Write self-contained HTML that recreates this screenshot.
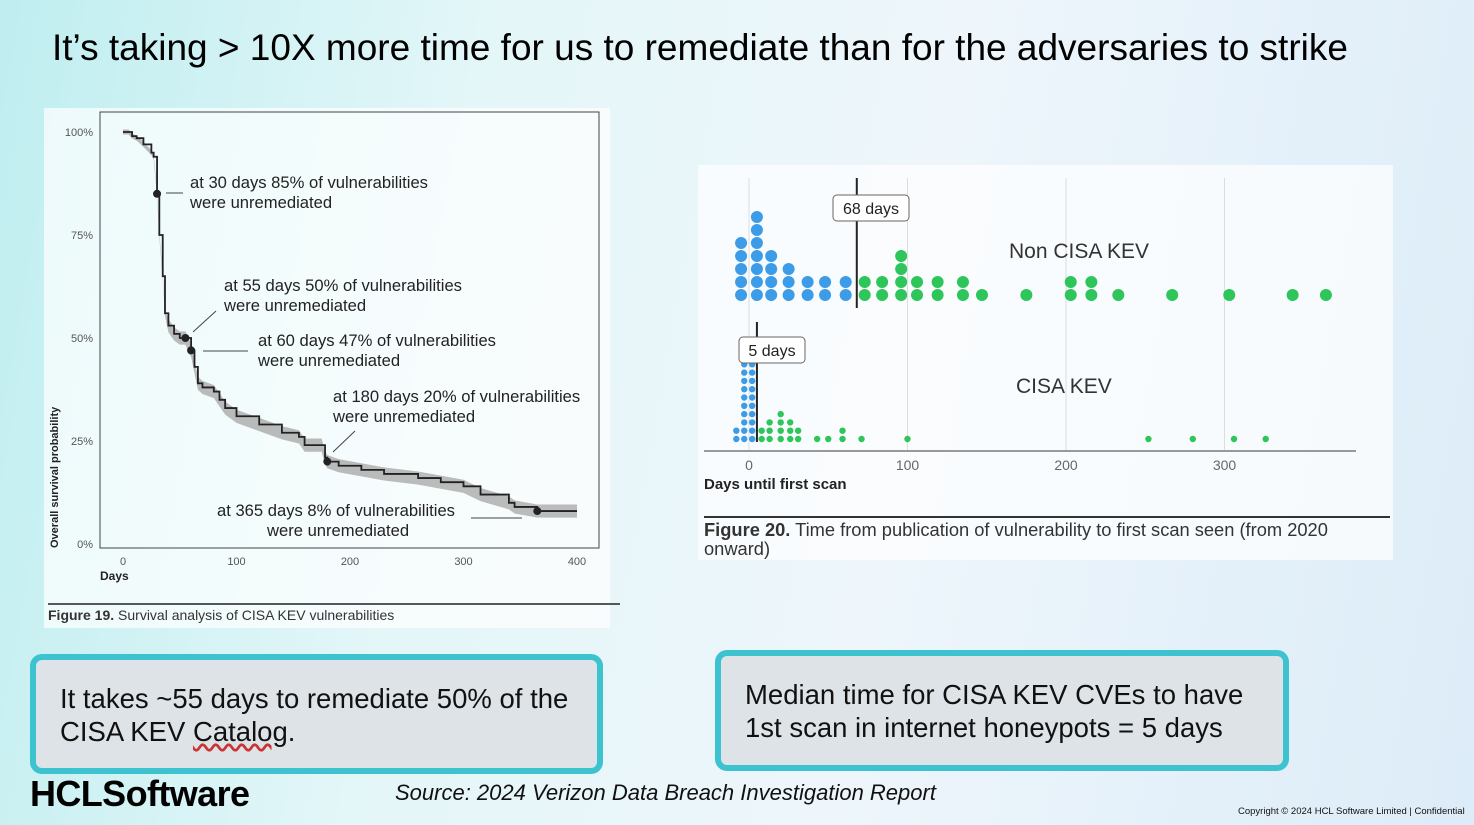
<!DOCTYPE html>
<html><head><meta charset="utf-8">
<style>
body{margin:0;width:1474px;height:825px;overflow:hidden;font-family:"Liberation Sans",sans-serif;}
#slide{position:relative;width:1474px;height:825px;background:linear-gradient(100deg,#bfeef0 0%,#e3f6f8 30%,#eef6fb 60%,#dcecf8 100%);}
.abs{position:absolute;}
.box{position:absolute;border:6px solid #3cc3cf;border-radius:12px;background:#dde3e7;font-size:27.5px;color:#111;line-height:33px;padding:22px 24px;box-sizing:border-box;}
</style></head><body>
<div id="slide">
<div class="abs" style="left:52px;top:27px;font-size:37px;color:#000;">It’s taking &gt; 10X more time for us to remediate than for the adversaries to strike</div>

<svg class="abs" style="left:0;top:0" width="1474" height="825">
<rect x="44" y="108" width="566" height="520" fill="#ffffff" opacity="0.7"/>
<rect x="698" y="165" width="695" height="395" fill="#ffffff" opacity="0.7"/>
<g id="left"></g>
<g id="right"></g>
</svg>

<div class="box" style="left:30px;top:654px;width:573px;height:120px;">It takes ~55 days to remediate 50% of the CISA KEV <span style="text-decoration:underline wavy #c33;">Catalog</span>.</div>
<div class="box" style="left:715px;top:650px;width:574px;height:121px;">Median time for CISA KEV CVEs to have 1st scan in internet honeypots = 5 days</div>
<div class="abs" style="left:30px;top:773px;font-size:36px;font-weight:bold;letter-spacing:-0.6px;color:#000;">HCLSoftware</div>
<div class="abs" style="left:395px;top:780px;font-size:22px;font-style:italic;color:#111;">Source: 2024 Verizon Data Breach Investigation Report</div>
<div class="abs" style="left:1238px;top:806px;font-size:9.5px;color:#111;">Copyright © 2024 HCL Software Limited | Confidential</div>
</div>
<script>
// Survival curve data
const survDays=[0,5,8,12,18,25,27,30,32,35,37,40,45,50,55,60,63,66,70,80,85,90,100,120,140,155,160,175,178,180,190,210,230,260,280,300,315,340,345,365,400];
const survPct=[100,100,99,98.5,97,95,94,85,75,65,56,53,51,50,50,47,43,39,38,37,35,33,31,29,27,26,24,24,21,20,19,18,17,16,15,14,12,10,9,8,8];
const xTicks=[0,100,200,300,400];
const yTicks=[0,25,50,75,100];
const markers=[[30,85],[55,50],[60,47],[180,20],[365,8]];
// Dot plot data
const nonKevDays=[-5,5,14,25,37,48,61,73,84,96,106,119,135,147,175,203,216,233,267,303,343,364];
const nonKevCounts=[5,7,4,3,2,2,2,2,2,4,2,2,2,1,1,2,2,1,1,1,1,1];
const kevDays=[-8,-3,2,8,13,20,26,31,43,50,59,71,100,252,280,306,326];
const kevCounts=[2,10,10,2,3,4,3,2,1,1,2,1,1,1,1,1,1];
const kevBlue=[1,1,1,0,0,0,0,0,0,0,0,0,0,0,0,0,0];
const dotTicks=[0,100,200,300];
const medians=[68,5];

const NS="http://www.w3.org/2000/svg";
function mk(tag,attrs,parent,name){const e=document.createElementNS(NS,tag);for(const k in attrs)e.setAttribute(k,attrs[k]);parent.appendChild(e);


return e;}
function txt(s,x,y,size,parent,name,extra){const t=mk('text',Object.assign({x:x,y:y,'font-size':size,'font-family':'Liberation Sans, sans-serif',fill:'#222'},extra||{}),parent,name);t.textContent=s;return t;}

// LEFT
const L=document.getElementById('left');
const lx=d=>123+d*1.135, ly=p=>544-p*4.12;
mk('rect',{x:100,y:112,width:499,height:436,fill:'none',stroke:'#444','stroke-width':1},L,'plot-frame');
xTicks.forEach(t=>txt(String(t),lx(t),565,11,L,'x-tick-label',{'text-anchor':'middle',fill:'#555'}));
yTicks.forEach(t=>txt(t+'%',93,ly(t)+4,11,L,'y-tick-label',{'text-anchor':'end',fill:'#555'}));
txt('Days',100,580,12,L,'x-axis-title',{'font-weight':'bold'});
txt('Overall survival probability',58,548,11,L,'y-axis-title',{'font-weight':'bold',transform:'rotate(-90 58 548)'});
let d='';
survDays.forEach((dd,i)=>{const x=lx(dd),y=ly(survPct[i]);
 if(i===0)d+='M'+x+' '+y;else d+=' H'+x+' V'+y;});
let up=[],lo=[];
survDays.forEach((dd,i)=>{const w=survPct[i]<55?1.6:0.6;up.push([lx(dd),ly(survPct[i]+w)]);lo.push([lx(dd),ly(survPct[i]-w)]);});
let band='M'+up.map(p=>p.join(' ')).join(' L')+' L'+lo.reverse().map(p=>p.join(' ')).join(' L')+'Z';
mk('path',{d:band,fill:'#aaa',opacity:0.8},L,'confidence-band');
mk('path',{d:d,fill:'none',stroke:'#222','stroke-width':1.8},L,'survival-curve');
markers.forEach(m=>mk('circle',{cx:lx(m[0]),cy:ly(m[1]),r:4,fill:'#222'},L,'marker-point'));
const ann=[['at 30 days 85% of vulnerabilities','were unremediated',190,188],['at 55 days 50% of vulnerabilities','were unremediated',224,291],['at 60 days 47% of vulnerabilities','were unremediated',258,346],['at 180 days 20% of vulnerabilities','were unremediated',333,402],['at 365 days 8% of vulnerabilities','were unremediated',217,516]];
ann.forEach((a,i)=>{txt(a[0],a[2],a[3],16.6,L,'annotation');txt(a[1],i==4?267:a[2],a[3]+20,16.6,L,'annotation');});
[[166,193,183,193],[193,332,216,311],[203,351,248,351],[333,452,355,431],[471,518,522,518]].forEach(s=>mk('line',{x1:s[0],y1:s[1],x2:s[2],y2:s[3],stroke:'#444','stroke-width':1},L,'annotation-leader'));
mk('line',{x1:48,y1:604,x2:620,y2:604,stroke:'#222','stroke-width':1.5},L,'caption-rule');
const cap=txt('',48,620,14,L,'figure-19-caption',{fill:'#333'});cap.innerHTML='<tspan font-weight="bold">Figure 19.</tspan> Survival analysis of CISA KEV vulnerabilities';

// RIGHT
const R=document.getElementById('right');
const rx=v=>749+v*1.585;
dotTicks.forEach(t=>{mk('line',{x1:rx(t),y1:178,x2:rx(t),y2:450,stroke:'#ddd','stroke-width':1},R,'gridline');
 txt(String(t),rx(t),470,14,R,'x-tick-label',{'text-anchor':'middle',fill:'#666'});});
mk('line',{x1:704,y1:451,x2:1356,y2:451,stroke:'#999','stroke-width':2},R,'x-axis-line');
nonKevDays.forEach((v,i)=>{for(let k=0;k<nonKevCounts[i];k++)mk('circle',{cx:rx(v),cy:295-k*13,r:6,fill:v<68?'#3d9ce8':'#2ec65a'},R,'non-kev-dot');});
kevDays.forEach((v,i)=>{for(let k=0;k<kevCounts[i];k++)mk('circle',{cx:rx(v),cy:439-k*8.3,r:3.2,fill:kevBlue[i]?'#3d9ce8':'#2ec65a'},R,'kev-dot');});
mk('line',{x1:rx(medians[0]),y1:178,x2:rx(medians[0]),y2:308,stroke:'#222','stroke-width':2},R,'median-line-non-kev');
mk('line',{x1:rx(medians[1]),y1:322,x2:rx(medians[1]),y2:442,stroke:'#222','stroke-width':2},R,'median-line-kev');
mk('rect',{x:833,y:195,width:76,height:26,rx:4,fill:'#fff',stroke:'#666'},R,'median-label-box');
txt(medians[0]+'  days',871,214,16,R,'median-label',{'text-anchor':'middle'});
mk('rect',{x:739,y:337,width:66,height:26,rx:4,fill:'#fff',stroke:'#666'},R,'median-label-box');
txt(medians[1]+'  days',772,356,16,R,'median-label',{'text-anchor':'middle'});
txt('Non CISA KEV',1009,258,21,R,'series-label-non-kev',{fill:'#333'});
txt('CISA KEV',1016,393,21,R,'series-label-kev',{fill:'#333'});
txt('Days until first scan',704,489,15,R,'x-axis-title',{'font-weight':'bold'});
mk('line',{x1:704,y1:517,x2:1390,y2:517,stroke:'#333','stroke-width':2},R,'caption-rule');
const c2=txt('',704,536,18.3,R,'figure-20-caption',{fill:'#333'});c2.innerHTML='<tspan font-weight="bold">Figure 20.</tspan> Time from publication of vulnerability to first scan seen (from 2020';
txt('onward)',704,555,18.3,R,'figure-20-caption-cont',{fill:'#333'});
</script>
</body></html>
